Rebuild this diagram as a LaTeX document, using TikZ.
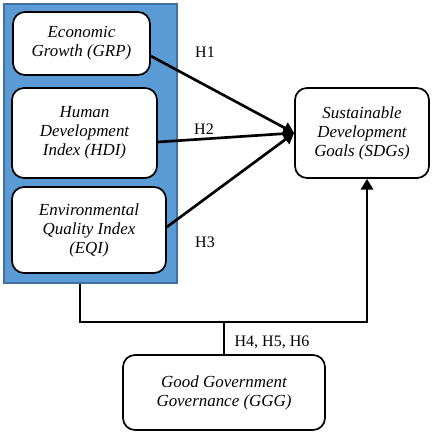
\documentclass[tikz,border=0pt]{standalone}
\usepackage{fontspec}
\setmainfont{Liberation Serif}
\usetikzlibrary{arrows.meta}
\definecolor{panelblue}{HTML}{5B9BD5}
\definecolor{paneledge}{HTML}{41719C}
\begin{document}
\begin{tikzpicture}[x=0.75pt,y=-0.75pt,
  box/.style={draw=black, line width=1.3pt, fill=white, rounded corners=9pt,
    align=center, font=\fontsize{12.7}{14.2}\selectfont\itshape, inner sep=2pt},
  panel/.style={draw=paneledge, line width=0.8pt, fill=panelblue, inner sep=0pt},
  link/.style={line width=2pt},
  tip/.style={-{Triangle[length=8pt,width=9pt]}},
  hlabel/.style={font=\fontsize{12}{14}\selectfont}
]
\useasboundingbox (0,0) rectangle (433,435);
\node[panel, minimum width=129.75pt, minimum height=209.25pt] (blue) at (90.5,143.5) {};
\node[box, minimum width=102.75pt, minimum height=47.25pt] (grp) at (81.5,43.5) {Economic\\Growth (GRP)};
\node[box, minimum width=108.75pt, minimum height=67.5pt] (hdi) at (84.5,133) {Human\\Development\\Index (HDI)};
\node[box, minimum width=115.5pt, minimum height=64.5pt] (eqi) at (89,230) {Environmental\\Quality Index\\(EQI)};
\node[box, minimum width=100.5pt, minimum height=67.5pt] (sdg) at (362,133) {Sustainable\\Development\\Goals (SDGs)};
\node[box, minimum width=151.5pt, minimum height=56.25pt] (ggg) at (224,392.5) {Good Government\\Governance (GGG)};

\draw[link, tip] ([yshift=-9.4pt]grp.east) -- (sdg.west);
\draw[link, tip] ([yshift=-6.75pt]hdi.east) -- (sdg.west);
\draw[link, tip] ([yshift=2.25pt]eqi.east) -- (sdg.west);

\coordinate (jn) at (224,322);
\draw[link, tip] ([xshift=-7.9pt]blue.south) |- (jn) -| ([xshift=3.75pt]sdg.south);
\draw[link] (ggg.north) -- (jn);

\node[hlabel] (h1) at (205,52) {H1};
\node[hlabel] (h2) at (204,129) {H2};
\node[hlabel] (h3) at (205,242) {H3};
\node[hlabel] (h456) at (272,342) {H4, H5, H6};
\end{tikzpicture}
\end{document}
